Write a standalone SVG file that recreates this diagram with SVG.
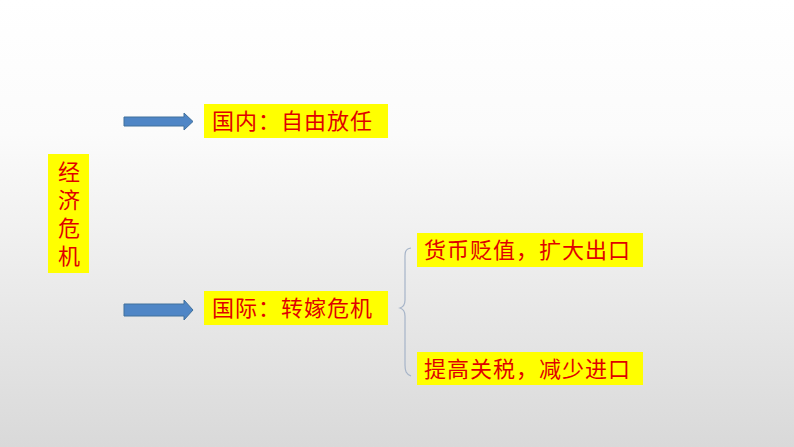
<svg xmlns="http://www.w3.org/2000/svg" width="794" height="447" viewBox="0 0 794 447">
<defs>
<linearGradient id="bg" x1="0" y1="0" x2="0" y2="1">
<stop offset="0" stop-color="#ffffff"/>
<stop offset="0.3" stop-color="#fbfbfb"/>
<stop offset="1" stop-color="#d9d9d9"/>
</linearGradient>
<style>
.box{fill:#ffff00}
.t{font-family:"Noto Sans CJK SC","Noto Sans CJK JP",sans-serif;font-size:22px;fill:#e00000;letter-spacing:1px}
.v{font-family:"Noto Sans CJK SC","Noto Sans CJK JP",sans-serif;font-size:22px;fill:#e00000;writing-mode:vertical-rl;text-orientation:upright;letter-spacing:6px}
.arr{fill:#4f86c6;stroke:#41719c;stroke-width:1}
.brace{fill:none;stroke:#a6b4c8;stroke-width:1.2}
</style>
</defs>
<rect x="0" y="0" width="794" height="447" fill="url(#bg)"/>
<g id="root">
<rect class="box" x="48" y="154" width="41" height="119"/>
<text class="v" x="69" y="161">经济危机</text>
</g>
<g id="domestic">
<rect class="box" x="204" y="104" width="184" height="34"/>
<text class="t" x="212" y="129">国内：自由放任</text>
</g>
<g id="international">
<rect class="box" x="204" y="291" width="184" height="34"/>
<text class="t" x="212" y="316">国际：转嫁危机</text>
</g>
<g id="devalue">
<rect class="box" x="417" y="233" width="226" height="34"/>
<text class="t" x="424" y="258">货币贬值，扩大出口</text>
</g>
<g id="tariff">
<rect class="box" x="417" y="352" width="226" height="33"/>
<text class="t" x="424" y="377">提高关税，减少进口</text>
</g>
<g id="connectors">
<path class="arr" d="M124,117 H184 V113 L193,121.5 L184,130 V126 H124 Z"/>
<path class="arr" d="M124,304 H184 V300 L193,310 L184,320 V316 H124 Z"/>
<path class="brace" d="M411,248 C404,249 405,254 405,262 V300 C405,305 403,307 400,308 C403,309 405,311 405,316 V365 C405,371 406,374 411,376"/>
</g>
</svg>
